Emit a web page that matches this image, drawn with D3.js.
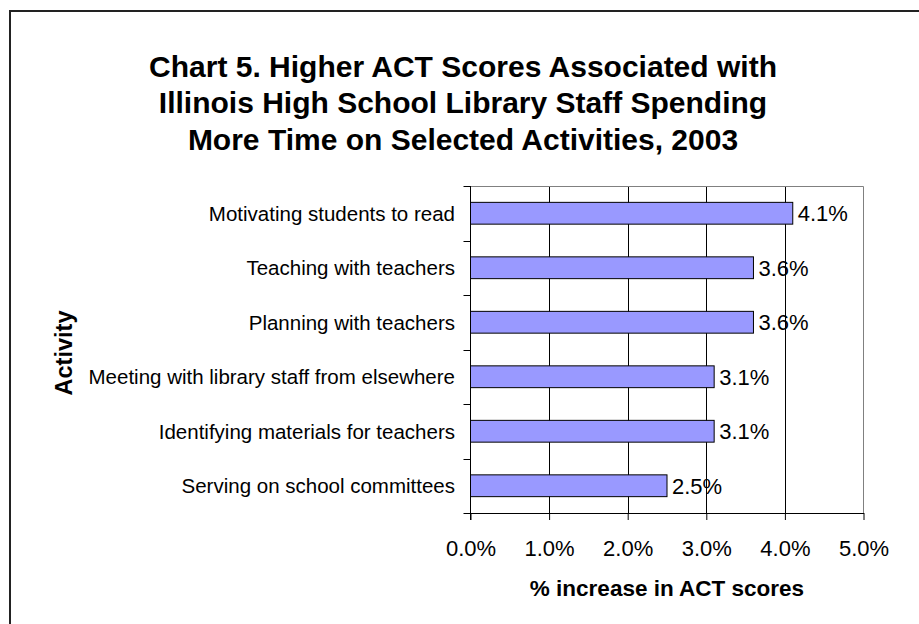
<!DOCTYPE html>
<html>
<head>
<meta charset="utf-8">
<script src="https://cdn.jsdelivr.net/npm/d3@7"></script>
<style>
  html, body { margin: 0; padding: 0; background: #fff; }
  svg { display: block; font-family: "Liberation Sans", Arial, sans-serif; }
</style>
</head>
<body>
<svg id="chart" width="919" height="624"></svg>
<script>
const categories = [
  "Motivating students to read",
  "Teaching with teachers",
  "Planning with teachers",
  "Meeting with library staff from elsewhere",
  "Identifying materials for teachers",
  "Serving on school committees"
];
const values = [0.041, 0.036, 0.036, 0.031, 0.031, 0.025];
const xTicks = [0, 0.01, 0.02, 0.03, 0.04, 0.05];
const titleLines = [
  "Chart 5. Higher ACT Scores Associated with",
  "Illinois High School Library Staff Spending",
  "More Time on Selected Activities, 2003"
];
const xTitle = "% increase in ACT scores";
const yTitle = "Activity";

const svg = d3.select("#chart");
const L = 470.5, R = 863.5, T = 186, B = 513;

// outer border (only top/left visible)
svg.append("rect").attr("x", 10).attr("y", 11).attr("width", 1000).attr("height", 1000)
  .attr("fill", "none").attr("stroke", "#222").attr("stroke-width", 2);

const x = d3.scaleLinear().domain([0, 0.05]).range([L, R]);
const y = d3.scaleBand().domain(categories).range([T, B]).paddingInner(0.6).paddingOuter(0.3);

// title
svg.append("text").attr("text-anchor", "middle").attr("font-weight", "bold")
  .attr("font-size", 30).attr("fill", "#000")
  .selectAll("tspan").data(titleLines).join("tspan")
  .attr("x", 463).attr("y", (d, i) => 77 + i * 36.3).text(d => d);

// gridlines
svg.append("g").selectAll("line").data(xTicks.slice(1, -1)).join("line")
  .attr("x1", d => Math.round(x(d)) + 0.5).attr("x2", d => Math.round(x(d)) + 0.5)
  .attr("y1", T).attr("y2", B).attr("stroke", "#000").attr("stroke-width", 1);

// plot border top & right (gray)
svg.append("path").attr("d", `M${L},${T + 0.5}H${R}V${B}`)
  .attr("fill", "none").attr("stroke", "#808080").attr("stroke-width", 1);

// bars
svg.append("g").selectAll("rect").data(values).join("rect")
  .attr("x", x(0)).attr("y", (d, i) => y(categories[i]))
  .attr("width", d => x(d) - x(0)).attr("height", y.bandwidth())
  .attr("fill", "#9999FF").attr("stroke", "#000").attr("stroke-width", 1);

// value labels
svg.append("g").selectAll("text").data(values).join("text")
  .attr("x", d => x(d) + 5).attr("y", (d, i) => y(categories[i]) + y.bandwidth() / 2)
  .attr("dy", "0.36em").attr("font-size", 22).attr("fill", "#000")
  .text(d => d3.format(".1%")(d));

// x axis
const xAxis = svg.append("g").attr("transform", `translate(0,${B})`)
  .call(d3.axisBottom(x).tickValues(xTicks).tickFormat(d3.format(".1%")).tickSizeInner(7).tickSizeOuter(0).tickPadding(20));
xAxis.select(".domain").attr("stroke", "#000");
xAxis.selectAll(".tick line").attr("stroke", "#000");
xAxis.selectAll(".tick text").attr("font-size", 22).attr("fill", "#000")
  .attr("font-family", "Liberation Sans, Arial, sans-serif");

// y axis line and ticks at category boundaries
svg.append("line").attr("x1", L).attr("x2", L).attr("y1", T).attr("y2", B + 7).attr("stroke", "#000");
const boundaries = d3.range(categories.length + 1).map(i => T + i * y.step());
svg.append("g").selectAll("line").data(boundaries).join("line")
  .attr("x1", L - 7).attr("x2", L).attr("y1", d => Math.round(d) + 0.5).attr("y2", d => Math.round(d) + 0.5)
  .attr("stroke", "#000");

// category labels
svg.append("g").selectAll("text").data(categories).join("text")
  .attr("x", 455).attr("y", d => y(d) + y.bandwidth() / 2)
  .attr("dy", "0.37em").attr("text-anchor", "end").attr("font-size", 20.5).attr("fill", "#000")
  .text(d => d);

// axis titles
svg.append("text").attr("x", (L + R) / 2).attr("y", 596).attr("text-anchor", "middle")
  .attr("font-weight", "bold").attr("font-size", 22.5).attr("fill", "#000").text(xTitle);
svg.append("text").attr("transform", `translate(72,353) rotate(-90)`).attr("text-anchor", "middle")
  .attr("font-weight", "bold").attr("font-size", 23.5).attr("fill", "#000").text(yTitle);
</script>
</body>
</html>
